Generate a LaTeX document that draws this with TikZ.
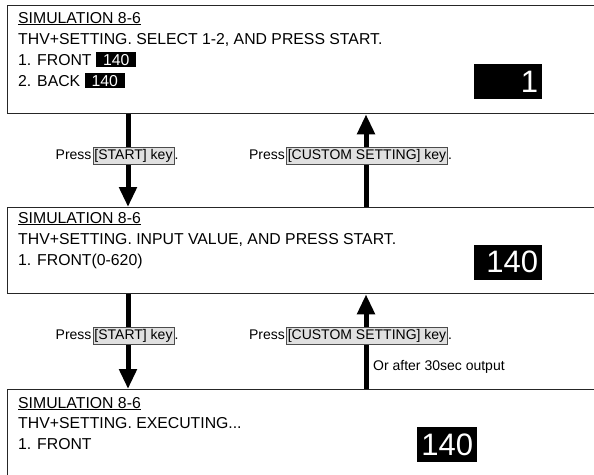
\documentclass[tikz,border=0pt]{standalone}
\usepackage{fontspec}
\setmainfont{Liberation Sans}
\usetikzlibrary{arrows.meta}
\begin{document}
\begin{tikzpicture}[x=1pt,y=-1pt,
  screen/.style={draw=black!85, line width=1.3pt, fill=white, anchor=north west,
    inner sep=0pt, minimum width=600pt},
  row/.style={anchor=base west, inner sep=0pt, font=\fontsize{15.8}{18}\selectfont},
  inl/.style={fill=black, text=white, anchor=base west, inner xsep=7pt,
    inner ysep=1.5pt, font=\fontsize{15.8}{18}\selectfont},
  bigval/.style={fill=black, text=white, font=\fontsize{31}{31}\selectfont,
    align=right, inner xsep=4pt, inner ysep=0pt, minimum height=35pt, anchor=west},
  flow/.style={line width=5pt, -{Triangle[width=17pt,length=20pt]}},
  keybox/.style={fill=black!12, draw=black!70, line width=0.6pt, inner xsep=1.5pt,
    inner ysep=2pt, font=\fontsize{14}{16}\selectfont},
  lbl/.style={inner sep=0pt, font=\fontsize{14}{16}\selectfont}
]
\useasboundingbox (0,0) rectangle (594,474);
\clip (0,0) rectangle (594,474);

% screens
\node[screen, minimum height=108pt] (s1) at (7,5) {};
\node[screen, minimum height=86pt] (s2) at (7,207) {};
\node[screen, minimum height=95pt] (s3) at (7,389) {};

% screen 1
\node[row] (a1) at (18,23) {\underline{SIMULATION 8-6}};
\node[row] (a2) at (18,44) {THV+SETTING. SELECT 1-2, AND PRESS START.};
\node[row] (a3) at (18,65) {1. FRONT};
\node[inl] (a3v) at ([xshift=4pt]a3.base east) {140};
\node[row] (a4) at (18,86) {2. BACK};
\node[inl] (a4v) at ([xshift=4pt]a4.base east) {140};
\node[bigval, text width=60pt] (v1) at (474,81.5) {1};

% screen 2
\node[row] (b1) at (18,223) {\underline{SIMULATION 8-6}};
\node[row] (b2) at (18,244) {THV+SETTING. INPUT VALUE, AND PRESS START.};
\node[row] (b3) at (18,265) {1. FRONT(0-620)};
\node[bigval, text width=60pt] (v2) at (474,262) {140};

% screen 3
\node[row] (c1) at (18,408) {\underline{SIMULATION 8-6}};
\node[row] (c2) at (18,428) {THV+SETTING. EXECUTING...};
\node[row] (c3) at (18,449) {1. FRONT};
\node[bigval, text width=52pt] (v3) at (417,444.5) {140};

% transitions
\draw[flow] ([xshift=121pt]s1.south west) -- ([xshift=121pt]s2.north west);
\draw[flow] ([xshift=359pt]s2.north west) -- ([xshift=359pt]s1.south west);
\draw[flow] ([xshift=121pt]s2.south west) -- ([xshift=121pt]s3.north west);
\draw[flow] ([xshift=359pt]s3.north west) -- ([xshift=359pt]s2.south west);

% transition labels
\node[keybox] (k1) at (133.5,155.5) {[START] key};
\node[lbl, anchor=base east] (k1p) at ([xshift=-1pt]k1.base west) {Press};
\node[lbl, anchor=base west] (k1d) at (k1.base east) {.};
\node[keybox] (k2) at (367,155.5) {[CUSTOM SETTING] key};
\node[lbl, anchor=base east] (k2p) at ([xshift=-1pt]k2.base west) {Press};
\node[lbl, anchor=base west] (k2d) at (k2.base east) {.};

\node[keybox] (k3) at (133.5,335.5) {[START] key};
\node[lbl, anchor=base east] (k3p) at ([xshift=-1pt]k3.base west) {Press};
\node[lbl, anchor=base west] (k3d) at (k3.base east) {.};
\node[keybox] (k4) at (367,335.5) {[CUSTOM SETTING] key};
\node[lbl, anchor=base east] (k4p) at ([xshift=-1pt]k4.base west) {Press};
\node[lbl, anchor=base west] (k4d) at (k4.base east) {.};
\node[lbl, anchor=west] (k4o) at (373,367) {Or after 30sec output};
\end{tikzpicture}
\end{document}
